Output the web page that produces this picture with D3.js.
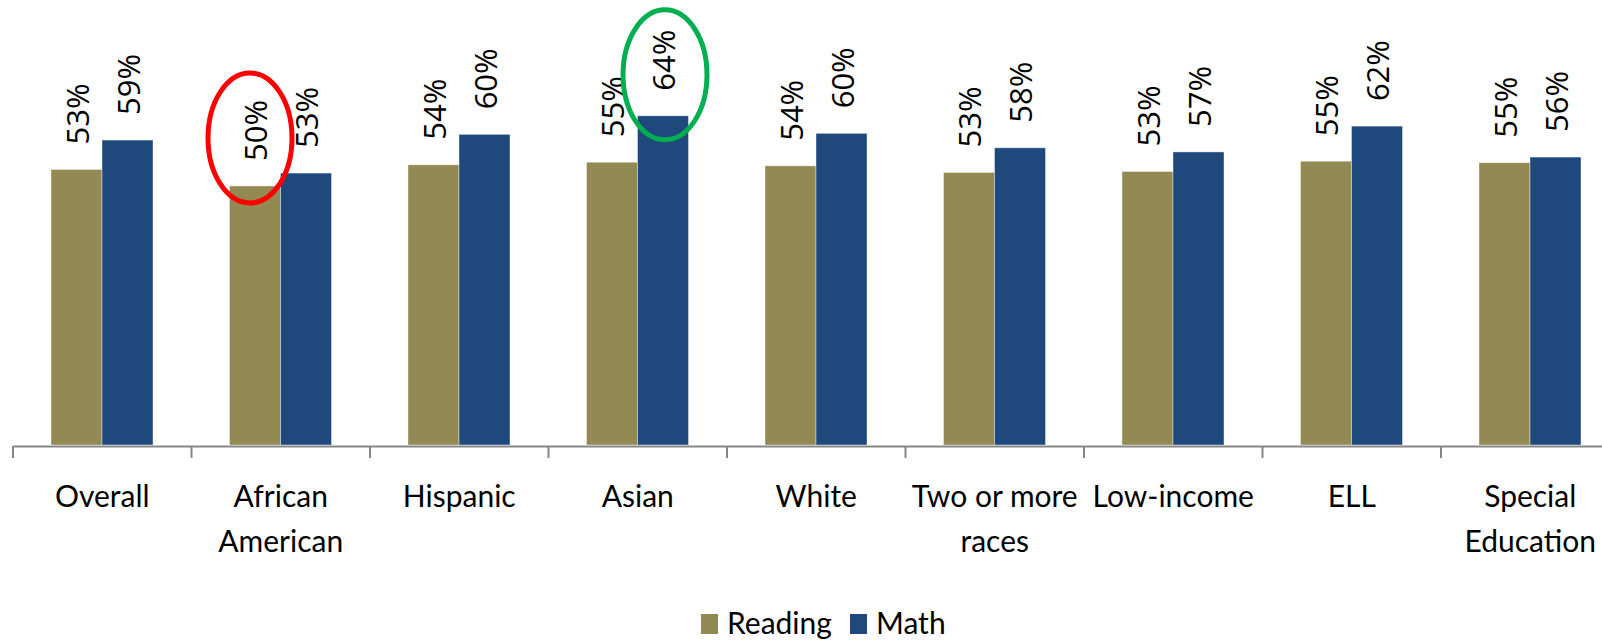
<!DOCTYPE html>
<html>
<head>
<meta charset="utf-8">
<script src="https://cdn.jsdelivr.net/npm/d3@7"></script>
<style>
    body { margin: 0; background: #fff; }
    svg { display: block; }
</style>
</head>
<body>
<div id="chart"></div>
<script>
// Chart data (fractions, labels are rounded to whole %)
const categories = ['Overall', 'African American', 'Hispanic', 'Asian', 'White', 'Two or more races', 'Low-income', 'ELL', 'Special Education'];
const categoryLines = [['Overall'], ['African', 'American'], ['Hispanic'], ['Asian'], ['White'], ['Two or more', 'races'], ['Low-income'], ['ELL'], ['Special', 'Education']];
const series = ['Reading', 'Math'];
const reading = [0.534, 0.502, 0.543, 0.548, 0.541, 0.528, 0.530, 0.550, 0.547];
const math = [0.591, 0.527, 0.602, 0.638, 0.604, 0.576, 0.568, 0.618, 0.558];
const colors = ['#938953', '#1f497d'];

// highlighted bars: [category index, series index, colour, dx, dy]
const highlights = [[1, 0, '#ff0000', -5, -48], [3, 1, '#00b050', 2, -41]];

const width = 1602, height = 643;

const svg = d3.select('#chart').append('svg')
    .attr('width', width)
    .attr('height', height);

const x = d3.scaleBand()
    .domain(categories)
    .range([13, 13 + categories.length * 178.5]);

const x1 = d3.scaleBand()
    .domain(series)
    .range([38, 140]);

const y = d3.scaleLinear()
    .domain([0, 1])
    .range([445, 445 - 516]);

const rows = categories.map((c, i) => ({ cat: c, values: [reading[i], math[i]] }));

// bars
const groups = svg.selectAll('g.cat')
    .data(rows)
    .join('g')
    .attr('class', 'cat')
    .attr('transform', d => `translate(${x(d.cat)},0)`);

groups.selectAll('rect')
    .data(d => d.values.map((v, j) => ({ s: series[j], v: v, j: j })))
    .join('rect')
    .attr('x', d => x1(d.s))
    .attr('y', d => y(d.v))
    .attr('width', x1.bandwidth())
    .attr('height', d => y(0) - y(d.v))
    .attr('fill', d => colors[d.j])
    .attr('stroke', '#ffffff')
    .attr('stroke-opacity', 0.5)
    .attr('stroke-width', 0.8);

// rotated value labels
const fmt = d3.format('.0%');
groups.selectAll('text.val')
    .data(d => d.values.map((v, j) => ({ s: series[j], v: v })))
    .join('text')
    .attr('class', 'val')
    .attr('transform', d => `translate(${x1(d.s) + x1.bandwidth() / 2 + 12},${y(d.v) - 25}) rotate(-90)`)
    .attr('font-family', '"Open Sans", sans-serif')
    .attr('font-size', 31)
    .attr('fill', '#000')
    .text(d => fmt(d.v));

// axis line and ticks
svg.append('line')
    .attr('x1', 13).attr('x2', width)
    .attr('y1', 446.5).attr('y2', 446.5)
    .attr('stroke', '#868686')
    .attr('stroke-width', 2);

const tickPos = categories.map(c => x(c)).concat([x.range()[1]]);
svg.selectAll('line.tick')
    .data(tickPos)
    .join('line')
    .attr('class', 'tick')
    .attr('x1', d => d).attr('x2', d => d)
    .attr('y1', 446).attr('y2', 458)
    .attr('stroke', '#868686')
    .attr('stroke-width', 2);

// category labels
svg.selectAll('text.cat')
    .data(categoryLines)
    .join('text')
    .attr('class', 'cat')
    .attr('text-anchor', 'middle')
    .attr('font-family', 'Lato, sans-serif')
    .attr('font-size', 30)
    .attr('fill', '#000')
    .each(function (lines, i) {
        const cx = x(categories[i]) + x.bandwidth() / 2;
        d3.select(this).selectAll('tspan')
            .data(lines)
            .join('tspan')
            .attr('x', cx)
            .attr('y', (l, k) => 507 + k * 44.5)
            .text(l => l);
    });

// highlight ellipses
svg.selectAll('ellipse')
    .data(highlights)
    .join('ellipse')
    .attr('cx', d => x(categories[d[0]]) + x1(series[d[1]]) + x1.bandwidth() / 2 + d[3])
    .attr('cy', d => y(d[1] === 0 ? reading[d[0]] : math[d[0]]) + d[4])
    .attr('rx', 42)
    .attr('ry', 65)
    .attr('fill', 'none')
    .attr('stroke', d => d[2])
    .attr('stroke-width', 5);

// legend
const legend = svg.append('g');
const legendX = [701, 850];
series.forEach((s, i) => {
    legend.append('rect')
        .attr('x', legendX[i]).attr('y', 614)
        .attr('width', 17).attr('height', 20)
        .attr('fill', colors[i]);
    legend.append('text')
        .attr('x', legendX[i] + 26).attr('y', 634)
        .attr('font-family', 'Lato, sans-serif')
        .attr('font-size', 30)
        .attr('fill', '#000')
        .text(s);
});
</script>
</body>
</html>
